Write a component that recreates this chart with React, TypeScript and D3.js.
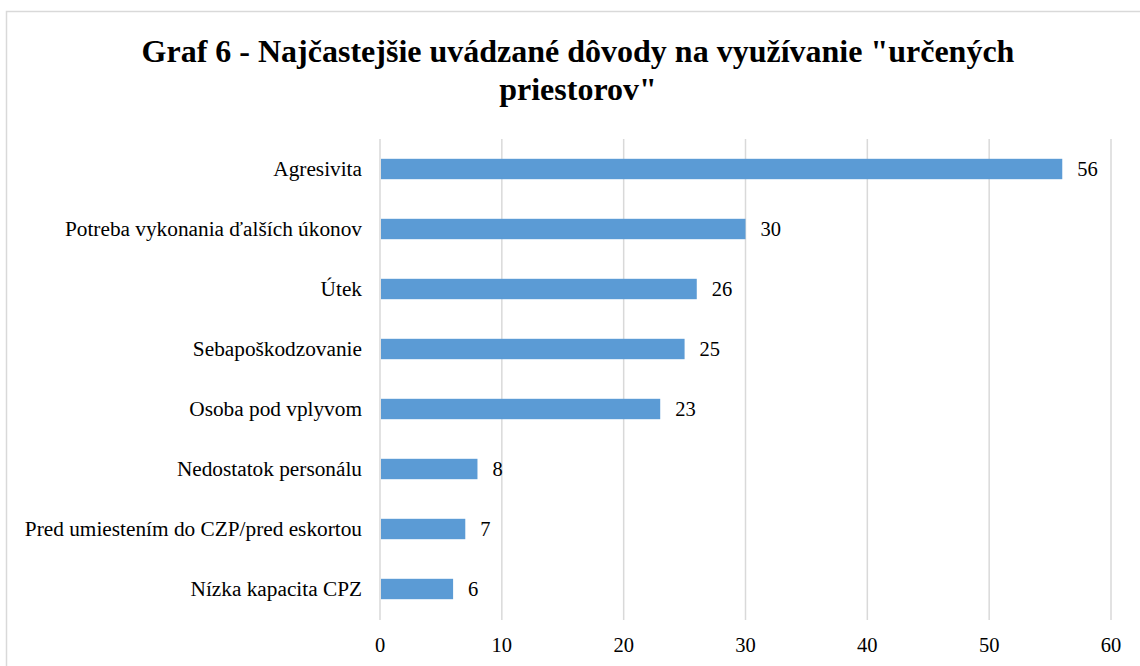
import React, { useEffect, useRef } from "react"
import * as d3 from "d3"

const categories = [
  "Agresivita",
  "Potreba vykonania ďalších úkonov",
  "Útek",
  "Sebapoškodzovanie",
  "Osoba pod vplyvom",
  "Nedostatok personálu",
  "Pred umiestením do CZP/pred eskortou",
  "Nízka kapacita CPZ",
]
const values = [56, 30, 26, 25, 23, 8, 7, 6]
const ticks = [0, 10, 20, 30, 40, 50, 60]
const titleLines = ['Graf 6 - Najčastejšie uvádzané dôvody na využívanie "určených', 'priestorov"']

const W = 1140
const H = 666
const margin = { top: 139, right: 29, bottom: 47, left: 380 }
const font = "Liberation Serif, Times New Roman, serif"

export default function App() {
  const ref = useRef<SVGSVGElement>(null)

  useEffect(() => {
    const svg = d3.select(ref.current)
    svg.selectAll("*").remove()

    // chart frame
    svg.append("rect")
      .attr("x", 6.5).attr("y", 11.5)
      .attr("width", W + 20).attr("height", H + 20)
      .attr("fill", "white")
      .attr("stroke", "#d9d9d9")
      .attr("stroke-width", 1.5)

    svg.append("text")
      .attr("x", 578)
      .attr("text-anchor", "middle")
      .attr("font-family", font)
      .attr("font-size", 32)
      .attr("font-weight", "bold")
      .attr("fill", "#000")
      .selectAll("tspan")
      .data(titleLines)
      .enter()
      .append("tspan")
      .attr("x", 578)
      .attr("y", (d, i) => 62 + i * 38)
      .text(d => d)

    const boundsW = W - margin.left - margin.right

    const x = d3.scaleLinear().domain([0, 60]).range([0, boundsW])
    const y = d3.scaleBand().domain(categories).range([0, 480]).paddingInner(0.66).paddingOuter(0.33)

    const g = svg.append("g").attr("transform", `translate(${margin.left},${margin.top})`)

    // gridlines
    g.selectAll(".grid")
      .data(ticks)
      .enter()
      .append("line")
      .attr("x1", d => x(d)).attr("x2", d => x(d))
      .attr("y1", 0).attr("y2", 481)
      .attr("stroke", "#d9d9d9")
      .attr("stroke-width", 1.5)

    // tick labels
    g.selectAll(".tick")
      .data(ticks)
      .enter()
      .append("text")
      .attr("x", d => x(d))
      .attr("y", 513)
      .attr("text-anchor", "middle")
      .attr("font-family", font)
      .attr("font-size", 20.5)
      .attr("fill", "#000")
      .text(d => d)

    // bars
    g.selectAll(".bar")
      .data(values)
      .enter()
      .append("rect")
      .attr("x", x(0) + 1)
      .attr("y", (d, i) => y(categories[i])!)
      .attr("width", d => x(d) - x(0) - 1)
      .attr("height", y.bandwidth())
      .attr("fill", "#5b9bd5")

    // value labels
    g.selectAll(".val")
      .data(values)
      .enter()
      .append("text")
      .attr("x", d => x(d) + 15)
      .attr("y", (d, i) => y(categories[i])! + y.bandwidth() / 2)
      .attr("dy", "0.35em")
      .attr("font-family", font)
      .attr("font-size", 20.5)
      .attr("fill", "#000")
      .text(d => d)

    // category labels
    g.selectAll(".cat")
      .data(categories)
      .enter()
      .append("text")
      .attr("x", -18)
      .attr("y", d => y(d)! + y.bandwidth() / 2)
      .attr("dy", "0.35em")
      .attr("text-anchor", "end")
      .attr("font-family", font)
      .attr("font-size", 21.3)
      .attr("fill", "#000")
      .text(d => d)
  }, [])

  return (
    <svg ref={ref} width={W} height={H}
      style={{ position: "absolute", left: 0, top: 0, background: "white" }} />
  )
}
